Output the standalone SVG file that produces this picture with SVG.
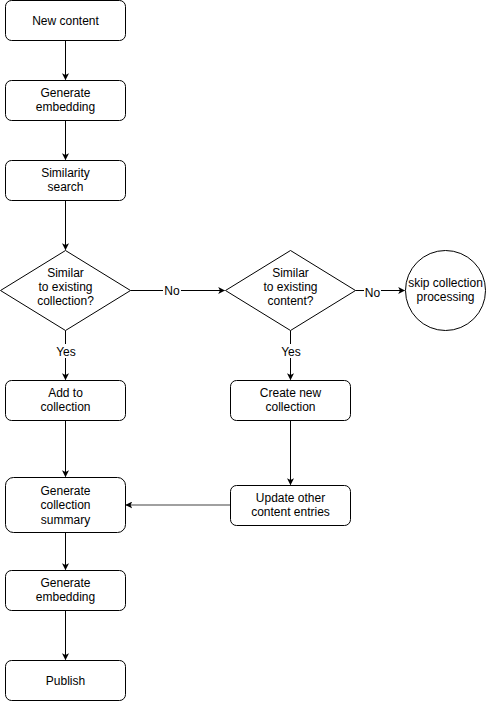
<svg xmlns="http://www.w3.org/2000/svg" width="486" height="701" viewBox="0 0 486 701">
<defs>
<marker id="ah" viewBox="0 0 10 10" refX="9" refY="5" markerWidth="7" markerHeight="7" markerUnits="userSpaceOnUse" orient="auto">
<path d="M0,0 L10,5 L0,10 L2.5,5 Z" fill="#000"/>
</marker>
<marker id="ahg" viewBox="0 0 10 10" refX="9" refY="5" markerWidth="7" markerHeight="7" markerUnits="userSpaceOnUse" orient="auto">
<path d="M0,0 L10,5 L0,10 L2.5,5 Z" fill="#000"/>
</marker>
</defs>
<style>
.n{fill:#fff;stroke:#000;stroke-width:1}
.t{font-family:"Liberation Sans",Arial,sans-serif;font-size:12px;fill:#000;text-anchor:middle}
.c{fill:none;stroke:#000;stroke-width:1}
.lb{fill:#fff}
</style>
<rect width="486" height="701" fill="#fff"/>
<g id="connectors">
<line class="c" x1="65.5" y1="40.5" x2="65.5" y2="79.5" marker-end="url(#ah)"/>
<line class="c" x1="65.5" y1="120.5" x2="65.5" y2="159.5" marker-end="url(#ah)"/>
<line class="c" x1="65.5" y1="200.5" x2="65.5" y2="249.5" marker-end="url(#ah)"/>
<line class="c" x1="130.5" y1="290.5" x2="224.5" y2="290.5" marker-end="url(#ah)"/>
<line class="c" x1="355.5" y1="290.5" x2="404.5" y2="290.5" marker-end="url(#ah)"/>
<line class="c" x1="65.5" y1="330.5" x2="65.5" y2="379.5" marker-end="url(#ah)"/>
<line class="c" x1="290.5" y1="330.5" x2="290.5" y2="379.5" marker-end="url(#ah)"/>
<line class="c" x1="65.5" y1="420.5" x2="65.5" y2="476.5" marker-end="url(#ah)"/>
<line class="c" x1="290.5" y1="420.5" x2="290.5" y2="484.5" marker-end="url(#ah)"/>
<line x1="230.5" y1="505" x2="126" y2="505" stroke="#808080" stroke-width="1.5" marker-end="url(#ahg)"/>
<line class="c" x1="65.5" y1="532.5" x2="65.5" y2="569.5" marker-end="url(#ah)"/>
<line class="c" x1="65.5" y1="610.5" x2="65.5" y2="659.5" marker-end="url(#ah)"/>
<rect class="lb" x="163" y="283" width="18" height="14"/>
<text class="t" x="172" y="294.5">No</text>
<rect class="lb" x="364" y="285" width="17" height="14"/>
<text class="t" x="372.5" y="296.5">No</text>
<rect class="lb" x="55" y="344" width="22" height="14"/>
<text class="t" x="66" y="355.5">Yes</text>
<rect class="lb" x="280" y="344" width="22" height="14"/>
<text class="t" x="291" y="355.5">Yes</text>
</g>
<g id="new-content">
<rect class="n" x="5.5" y="0.5" width="120" height="40" rx="6"/>
<text class="t" x="65.5" y="24.5">New content</text>
</g>
<g id="generate-embedding-1">
<rect class="n" x="5.5" y="80.5" width="120" height="40" rx="6"/>
<text class="t" x="65.5" y="97">Generate</text>
<text class="t" x="65.5" y="111">embedding</text>
</g>
<g id="similarity-search">
<rect class="n" x="5.5" y="160.5" width="120" height="40" rx="6"/>
<text class="t" x="65.5" y="177">Similarity</text>
<text class="t" x="65.5" y="191">search</text>
</g>
<g id="similar-collection">
<polygon class="n" points="65.5,250.5 130.5,290.5 65.5,330.5 0.5,290.5"/>
<text class="t" x="65.5" y="277">Similar</text>
<text class="t" x="65.5" y="291">to existing</text>
<text class="t" x="65.5" y="305">collection?</text>
</g>
<g id="similar-content">
<polygon class="n" points="290.5,250.5 355.5,290.5 290.5,330.5 225.5,290.5"/>
<text class="t" x="290.5" y="277">Similar</text>
<text class="t" x="290.5" y="291">to existing</text>
<text class="t" x="290.5" y="305">content?</text>
</g>
<g id="skip">
<circle class="n" cx="445.5" cy="290.5" r="40"/>
<text class="t" x="445.5" y="287">skip collection</text>
<text class="t" x="445.5" y="301">processing</text>
</g>
<g id="add-to-collection">
<rect class="n" x="5.5" y="380.5" width="120" height="40" rx="6"/>
<text class="t" x="65.5" y="397">Add to</text>
<text class="t" x="65.5" y="411">collection</text>
</g>
<g id="create-new-collection">
<rect class="n" x="230.5" y="380.5" width="120" height="40" rx="6"/>
<text class="t" x="290.5" y="397">Create new</text>
<text class="t" x="290.5" y="411">collection</text>
</g>
<g id="generate-summary">
<rect class="n" x="5.5" y="477.5" width="120" height="55" rx="8"/>
<text class="t" x="65.5" y="494.5">Generate</text>
<text class="t" x="65.5" y="509">collection</text>
<text class="t" x="65.5" y="523.5">summary</text>
</g>
<g id="update-entries">
<rect class="n" x="230.5" y="485.5" width="120" height="40" rx="6"/>
<text class="t" x="290.5" y="502">Update other</text>
<text class="t" x="290.5" y="516">content entries</text>
</g>
<g id="generate-embedding-2">
<rect class="n" x="5.5" y="570.5" width="120" height="40" rx="6"/>
<text class="t" x="65.5" y="587">Generate</text>
<text class="t" x="65.5" y="601">embedding</text>
</g>
<g id="publish">
<rect class="n" x="5.5" y="660.5" width="120" height="40" rx="6"/>
<text class="t" x="65.5" y="684.5">Publish</text>
</g>
</svg>
